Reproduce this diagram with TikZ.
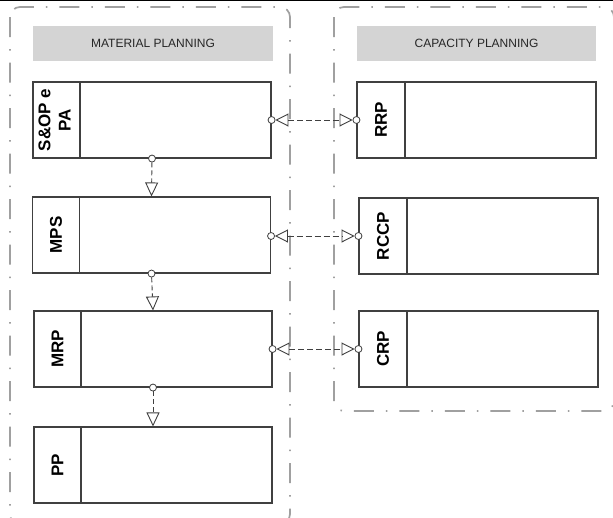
\documentclass[tikz,border=0pt]{standalone}
\usepackage{fontspec}
\setmainfont{Liberation Sans}
\usetikzlibrary{arrows.meta}
\definecolor{contgray}{HTML}{A0A0A0}
\definecolor{hdrgray}{HTML}{D4D4D4}
\definecolor{boxline}{HTML}{404040}
\definecolor{conn}{HTML}{404040}
\begin{document}
\begin{tikzpicture}[x=1pt,y=-1pt,
  cont/.style={draw=contgray, line width=1.7pt, rounded corners=10pt, dash pattern=on 20pt off 12pt on 1.5pt off 12pt},
  hdr/.style={fill=hdrgray, minimum width=240pt, minimum height=35pt, inner sep=0pt, font=\fontsize{12}{14}\selectfont, text=black!85},
  box/.style={draw=boxline, line width=1.1pt, minimum width=238pt, minimum height=76pt, inner sep=0pt},
  lab/.style={draw=boxline, line width=1.1pt, minimum width=47pt, minimum height=76pt, inner sep=0pt, anchor=north west, font=\fontsize{17}{20}\bfseries\selectfont},
  knob/.style={circle, draw=conn, line width=0.8pt, fill=white, minimum size=7pt, inner sep=0pt},
  flow/.style={draw=conn, line width=0.9pt, dash pattern=on 5pt off 3pt, -{Triangle[open,length=14pt,width=13pt]}},
  link/.style={draw=conn, line width=0.9pt, dash pattern=on 6pt off 3pt, {Triangle[open,length=13pt,width=13pt]}-{Triangle[open,length=13pt,width=13pt]}}
]
\useasboundingbox (0,0) rectangle (613,517);
\clip (0,0) rectangle (613,517);
\fill[white] (0,0) rectangle (613,517);
\draw[line width=1.5pt] (0,0.5) -- (613,0.5);

% containers
\draw[cont] (10,7) rectangle (290,524);
\draw[cont] (334,7) rectangle (614,411);

% headers
\node[hdr] (hmat) at (153,43.5) {MATERIAL PLANNING};
\node[hdr, minimum width=239pt] (hcap) at (476.5,43.5) {CAPACITY PLANNING};

% left boxes
\node[box] (sop) at (152,120) {};
\node[lab] (sopl) at (sop.north west) {\rotatebox{90}{\begin{tabular}{@{}c@{}}S\&OP e\\PA\end{tabular}}};
\node[box] (mps) at (151.5,235) {};
\node[lab] (mpsl) at (mps.north west) {\rotatebox{90}{MPS}};
\node[box] (mrp) at (153,349) {};
\node[lab] (mrpl) at (mrp.north west) {\rotatebox{90}{MRP}};
\node[box] (pp) at (153,465) {};
\node[lab] (ppl) at (pp.north west) {\rotatebox{90}{PP}};

% right boxes
\node[box, minimum width=239pt] (rrp) at (476.5,120) {};
\node[lab, minimum width=48pt] (rrpl) at (rrp.north west) {\rotatebox{90}{RRP}};
\node[box, minimum width=239pt] (rccp) at (478.5,236) {};
\node[lab, minimum width=48pt] (rccpl) at (rccp.north west) {\rotatebox{90}{RCCP}};
\node[box, minimum width=239pt] (crp) at (478.5,349) {};
\node[lab, minimum width=48pt] (crpl) at (crp.north west) {\rotatebox{90}{CRP}};

% vertical flows
\node[knob] (k1) at (sop.south) {};
\draw[flow] (k1) -- (mps.north);
\node[knob] (k2) at (mps.south) {};
\draw[flow] (k2) -- (mrp.north);
\node[knob] (k3) at (mrp.south) {};
\draw[flow] (k3) -- (pp.north);

% horizontal links
\node[knob] (a1) at (sop.east) {};
\node[knob] (b1) at (rrp.west) {};
\draw[link] (a1) -- (b1);
\node[knob] (a2) at (mps.east |- rccp.west) {};
\node[knob] (b2) at (rccp.west) {};
\draw[link] (a2) -- (b2);
\node[knob] (a3) at (mrp.east) {};
\node[knob] (b3) at (crp.west) {};
\draw[link] (a3) -- (b3);
\end{tikzpicture}
\end{document}
